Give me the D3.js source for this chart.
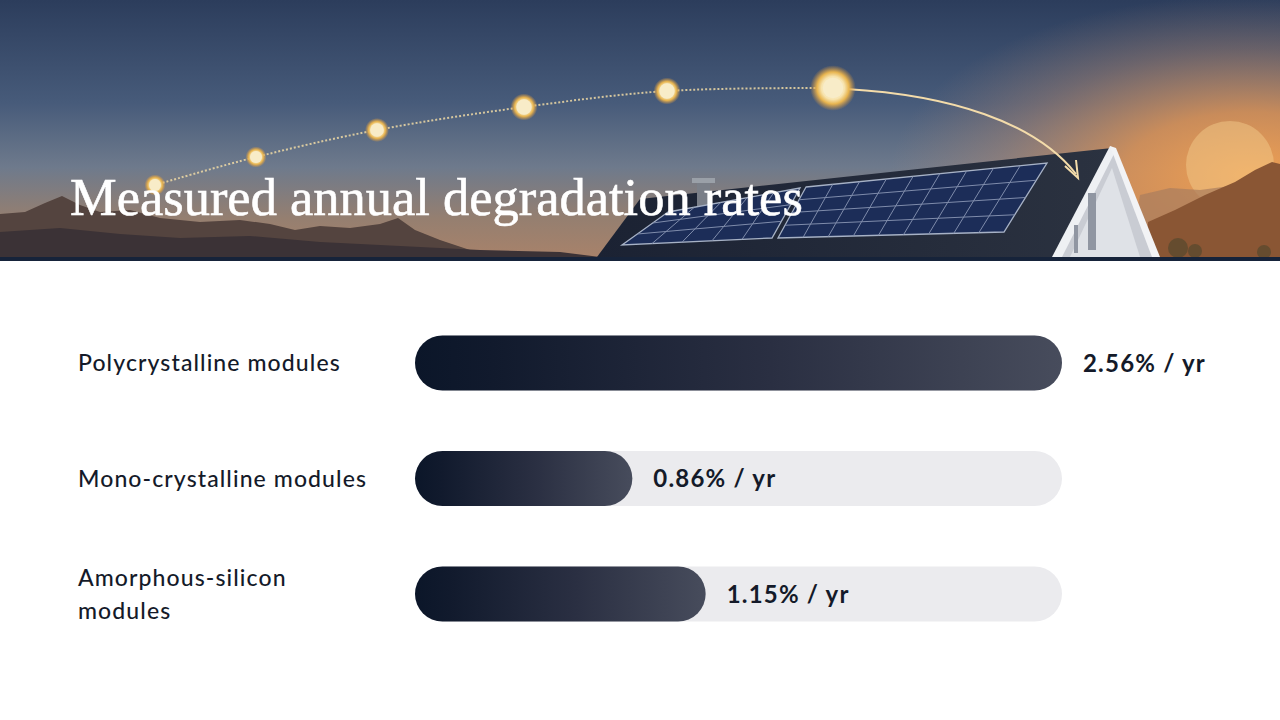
<!DOCTYPE html>
<html>
<head>
<meta charset="utf-8">
<script src="https://cdn.jsdelivr.net/npm/d3@7"></script>
<style>
  html, body { margin: 0; padding: 0; background: #fff; }
  svg { display: block; }
</style>
</head>
<body>
<svg id="chart" width="1280" height="720"></svg>
<script>
// data
const categories = ['Polycrystalline modules', 'Mono-crystalline modules', 'Amorphous-silicon modules'];
const rates = [2.56, 0.86, 1.15];
const valueLabels = ['2.56% / yr', '0.86% / yr', '1.15% / yr'];
const title = 'Measured annual degradation rates';

const W = 1280, H = 720;
const svg = d3.select('#chart');
const defs = svg.append('defs');

// ---------- header illustration ----------
const headerH = 257;

let sky = defs.append('linearGradient').attr('id', 'sky').attr('x1', 0).attr('y1', 0).attr('x2', 0).attr('y2', 1);
sky.append('stop').attr('offset', '0%').attr('stop-color', '#2c3d5c');
sky.append('stop').attr('offset', '40%').attr('stop-color', '#475b7a');
sky.append('stop').attr('offset', '65%').attr('stop-color', '#6e7a8c');
sky.append('stop').attr('offset', '85%').attr('stop-color', '#957f70');
sky.append('stop').attr('offset', '100%').attr('stop-color', '#a8826a');

let glow = defs.append('radialGradient').attr('id', 'glow').attr('gradientUnits', 'userSpaceOnUse')
  .attr('cx', 1250).attr('cy', 175).attr('r', 360)
  .attr('gradientTransform', 'translate(1250,175) scale(1,0.5) translate(-1250,-175)');
glow.append('stop').attr('offset', '0%').attr('stop-color', '#f0a052').attr('stop-opacity', 1);
glow.append('stop').attr('offset', '35%').attr('stop-color', '#de9354').attr('stop-opacity', 0.85);
glow.append('stop').attr('offset', '70%').attr('stop-color', '#c28a66').attr('stop-opacity', 0.35);
glow.append('stop').attr('offset', '100%').attr('stop-color', '#a88270').attr('stop-opacity', 0);

let sunG = defs.append('radialGradient').attr('id', 'sunball');
sunG.append('stop').attr('offset', '0%').attr('stop-color', '#fff6dc');
sunG.append('stop').attr('offset', '50%').attr('stop-color', '#f7e4b0');
sunG.append('stop').attr('offset', '70%').attr('stop-color', '#e8b550');
sunG.append('stop').attr('offset', '100%').attr('stop-color', '#e39a3a').attr('stop-opacity', 0);

let roofG = defs.append('linearGradient').attr('id', 'roof').attr('x1', 0).attr('y1', 0).attr('x2', 1).attr('y2', 0);
roofG.append('stop').attr('offset', '0%').attr('stop-color', '#1b2233');
roofG.append('stop').attr('offset', '100%').attr('stop-color', '#2b3240');

let header = svg.append('g');
header.append('rect').attr('width', W).attr('height', headerH).attr('fill', 'url(#sky)');
header.append('rect').attr('width', W).attr('height', headerH).attr('fill', 'url(#glow)');

// setting sun on the right
header.append('circle').attr('cx', 1230).attr('cy', 165).attr('r', 44)
  .attr('fill', '#f2c98a').attr('opacity', 0.5);

// mountains
const mtnLine = d3.line().curve(d3.curveLinear);
const farRight = [[1130,257],[1140,195],[1170,188],[1200,190],[1230,186],[1280,180],[1280,257]];
header.append('path').attr('d', mtnLine(farRight) + 'Z').attr('fill', '#a97d5e').attr('opacity', 0.7);
const rightMtn = [[1145,257],[1148,222],[1175,210],[1205,195],[1235,182],[1255,170],[1272,162],[1280,164],[1280,257]];
header.append('path').attr('d', mtnLine(rightMtn) + 'Z').attr('fill', '#8a5634');
const leftMtn = [[0,214],[25,212],[45,203],[62,196],[80,205],[100,212],[130,210],[160,218],[200,222],[240,220],
  [270,224],[295,230],[320,226],[350,228],[380,224],[398,218],[415,230],[440,240],[470,250],[500,257],[0,257]];
header.append('path').attr('d', mtnLine(leftMtn) + 'Z').attr('fill', '#54443f');
const leftMtn2 = [[0,232],[60,228],[120,234],[180,238],[250,236],[320,242],[400,246],[480,250],[560,252],[600,257],[0,257]];
header.append('path').attr('d', mtnLine(leftMtn2) + 'Z').attr('fill', '#3b3236');

// trees on right, faint
[[1178,248,10],[1195,251,7],[1264,252,7]].forEach(d => {
  header.append('circle').attr('cx', d[0]).attr('cy', d[1]).attr('r', d[2]).attr('fill', '#5b4a2e').attr('opacity', 0.8);
});

// house with solar roof
header.append('path').attr('d', 'M597,257 L640,199 L1112,148 L1057,257 Z').attr('fill', 'url(#roof)');
header.append('path').attr('d', 'M1057,257 L1112,150 L1155,257 Z').attr('fill', '#c9ccd3');
header.append('path').attr('d', 'M1070,257 L1112,168 L1140,257 Z').attr('fill', '#dfe2e7');
header.append('path').attr('d', 'M1052,257 L1110,146 L1116,150 L1062,257 Z').attr('fill', '#eef0f3');
header.append('path').attr('d', 'M1110,146 L1116,148 L1160,257 L1152,257 Z').attr('fill', '#f2f3f5');
header.append('rect').attr('x', 1088).attr('y', 193).attr('width', 8).attr('height', 57).attr('fill', '#9096a2');
header.append('rect').attr('x', 1074).attr('y', 225).attr('width', 4).attr('height', 28).attr('fill', '#9096a2');
// chimney
header.append('rect').attr('x', 697).attr('y', 182).attr('width', 13).attr('height', 30).attr('fill', '#7a7f88');
header.append('rect').attr('x', 692).attr('y', 178).attr('width', 23).attr('height', 5).attr('fill', '#9aa0a8');

// panels: corners TL, TR, BR, BL
function panelGrid(c, cols, rows) {
  let g = header.append('g');
  g.append('path').attr('d', d3.line()(c) + 'Z').attr('fill', '#1c2d58').attr('stroke', '#a7b2c6').attr('stroke-width', 1.3);
  const lerp = (a, b, t) => [a[0] + (b[0] - a[0]) * t, a[1] + (b[1] - a[1]) * t];
  for (let i = 1; i < cols; i++) {
    let a = lerp(c[0], c[1], i / cols), b = lerp(c[3], c[2], i / cols);
    g.append('line').attr('x1', a[0]).attr('y1', a[1]).attr('x2', b[0]).attr('y2', b[1])
      .attr('stroke', '#7f8cab').attr('stroke-width', 1);
  }
  for (let j = 1; j < rows; j++) {
    let a = lerp(c[0], c[3], j / rows), b = lerp(c[1], c[2], j / rows);
    g.append('line').attr('x1', a[0]).attr('y1', a[1]).attr('x2', b[0]).attr('y2', b[1])
      .attr('stroke', '#7f8cab').attr('stroke-width', 1);
  }
}
panelGrid([[668,212],[800,188],[772,238],[622,245]], 5, 3);
panelGrid([[806,187],[1047,163],[1004,232],[778,238]], 9, 4);

// sun path arc
const suns = [[155,185,7],[256,157,7],[377,130,8],[524,107,9],[667,91,9],[833,88,12]];
header.append('path')
  .attr('d', d3.line().curve(d3.curveCatmullRom)(suns.map(d => [d[0], d[1]])))
  .attr('fill', 'none').attr('stroke', '#efd9a4').attr('stroke-width', 2).attr('stroke-dasharray', '2 2').attr('opacity', 0.85);
header.append('path').attr('d', 'M846,89 C950,95 1035,122 1076,174')
  .attr('fill', 'none').attr('stroke', '#f4dcaa').attr('stroke-width', 2);
header.append('path').attr('d', 'M1065,166 L1078,178 L1076,160').attr('fill', 'none').attr('stroke', '#f4dcaa').attr('stroke-width', 2);
suns.forEach((d, i) => {
  header.append('circle').attr('cx', d[0]).attr('cy', d[1]).attr('r', d[2] * (i == suns.length - 1 ? 1.9 : 1.5)).attr('fill', 'url(#sunball)');
  header.append('circle').attr('cx', d[0]).attr('cy', d[1]).attr('r', d[2] * 0.85).attr('fill', '#f8ecc8');
});

// bottom band
svg.append('rect').attr('y', headerH).attr('width', W).attr('height', 4).attr('fill', '#16233a');

// title
let t = svg.append('text').attr('x', 70).attr('y', 215)
  .attr('font-family', "'Liberation Serif', 'DejaVu Serif', serif")
  .attr('font-size', 48).attr('fill', '#ffffff')
  .attr('stroke', '#ffffff').attr('stroke-width', 0.6).text(title);
let tw = t.node().getComputedTextLength();
t.attr('font-size', 48 * 733 / tw);

// ---------- bar chart ----------
const x = d3.scaleLinear().domain([0, d3.max(rates)]).range([415, 1062]);
const y = d3.scalePoint().domain(categories).range([363, 594]);
const barH = 55;

let bg = defs.append('linearGradient').attr('id', 'barGrad').attr('x1', 0).attr('y1', 0).attr('x2', 1).attr('y2', 0);
bg.append('stop').attr('offset', '0%').attr('stop-color', '#0b1629');
bg.append('stop').attr('offset', '12%').attr('stop-color', '#111a2d');
bg.append('stop').attr('offset', '55%').attr('stop-color', '#2a2f42');
bg.append('stop').attr('offset', '100%').attr('stop-color', '#474c5c');

const chart = svg.append('g');
const rows = chart.selectAll('g.row').data(categories).join('g').attr('class', 'row');

rows.append('rect')
  .attr('x', x(0)).attr('y', d => y(d) - barH / 2)
  .attr('width', x.range()[1] - x(0)).attr('height', barH)
  .attr('rx', barH / 2).attr('fill', '#ebebee');

rows.append('rect')
  .attr('x', x(0)).attr('y', d => y(d) - barH / 2)
  .attr('width', (d, i) => x(rates[i]) - x(0)).attr('height', barH)
  .attr('rx', barH / 2).attr('fill', 'url(#barGrad)');

rows.append('text')
  .attr('x', (d, i) => x(rates[i]) + 21).attr('y', d => y(d))
  .attr('dy', '0.36em')
  .attr('font-family', 'Lato, sans-serif').attr('font-weight', 700).attr('font-size', 24)
  .attr('letter-spacing', 1.2)
  .attr('fill', '#141a29')
  .text((d, i) => valueLabels[i]);

// category labels, wrapped
const labelW = 300;
rows.each(function(d) {
  let g = d3.select(this);
  let txt = g.append('text').attr('x', 78)
    .attr('font-family', 'Lato, sans-serif').attr('font-weight', 500).attr('font-size', 23)
    .attr('letter-spacing', 1.1)
    .attr('fill', '#141a29');
  let words = d.split(' ');
  let lines = [];
  let cur = [];
  let probe = txt.append('tspan');
  words.forEach(w => {
    cur.push(w);
    probe.text(cur.join(' '));
    if (probe.node().getComputedTextLength() > labelW && cur.length > 1) {
      cur.pop();
      lines.push(cur.join(' '));
      cur = [w];
    }
  });
  lines.push(cur.join(' '));
  probe.remove();
  const lh = 33;
  lines.forEach((l, k) => {
    txt.append('tspan').attr('x', 78)
      .attr('y', y(d) + (k - (lines.length - 1) / 2) * lh)
      .attr('dy', '0.36em').text(l);
  });
});
</script>
</body>
</html>
